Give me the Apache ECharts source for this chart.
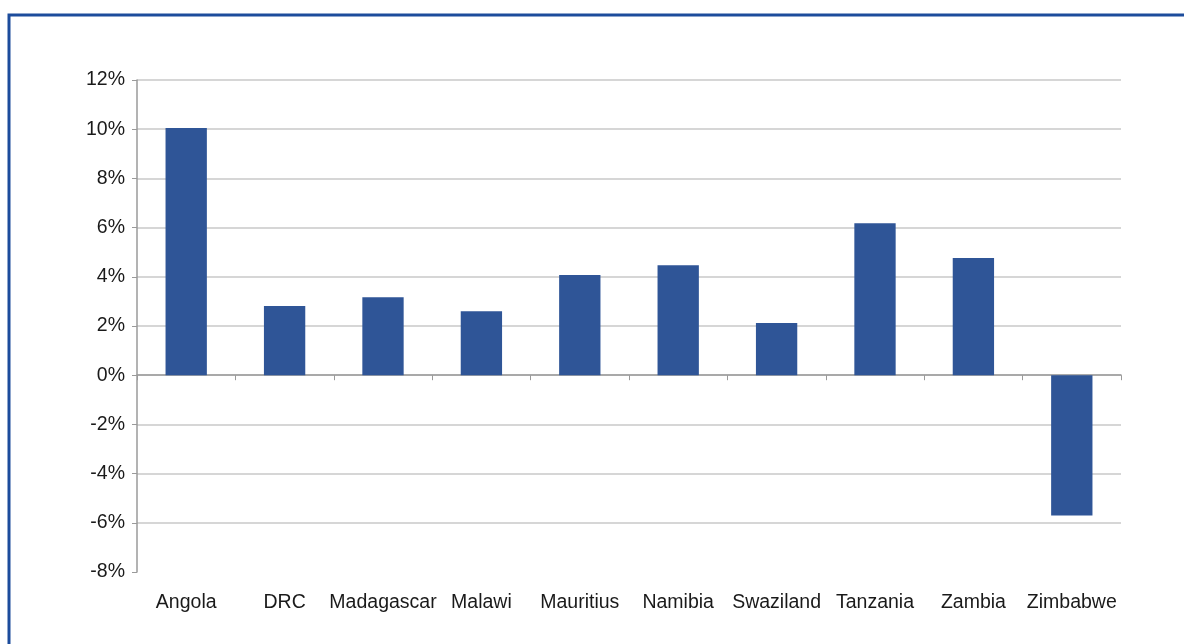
<!DOCTYPE html>
<html lang="en">
<head>
    <meta charset="UTF-8">
    <title>Growth</title>
    <style>
        html,body{margin:0;padding:0;background:#fff;}
        #chart{width:1184px;height:644px;}
    </style>
</head>
<body>
<div id="chart"></div>
<script src="https://cdn.jsdelivr.net/npm/echarts@6/dist/echarts.min.js"></script>
<script>
    let countries=['Angola','DRC','Madagascar','Malawi','Mauritius','Namibia','Swaziland','Tanzania','Zambia','Zimbabwe'];
    let growth=[10.05,2.81,3.17,2.6,4.07,4.47,2.12,6.18,4.76,-5.7];
    let yTicks=[-8,-6,-4,-2,0,2,4,6,8,10,12];

    let myChart=echarts.init(document.getElementById('chart'));
    let option={
        animation:false,
        textStyle:{fontFamily:'Liberation Sans, Arial, sans-serif'},
        graphic:[{
            type:'rect',
            shape:{x:9,y:15,width:1300,height:700},
            style:{fill:'none',stroke:'#1c4c9c',lineWidth:3}
        }],
        grid:{left:137,right:63,top:80,bottom:72},
        xAxis:[{
            type:'category',
            data:countries,
            position:'bottom',
            axisLine:{show:false,onZero:false},
            axisTick:{show:false},
            axisLabel:{color:'#1a1a1a',fontSize:19.5,margin:21,interval:0}
        },{
            type:'category',
            data:countries,
            position:'top',
            axisLine:{show:true,onZero:true,lineStyle:{color:'#9a9a9a',width:1.5}},
            axisTick:{show:true,inside:true,length:5,lineStyle:{color:'#9a9a9a'}},
            axisLabel:{show:false}
        }],
        yAxis:{
            type:'value',
            min:yTicks[0],
            max:yTicks[yTicks.length-1],
            interval:2,
            axisLine:{show:true,lineStyle:{color:'#9a9a9a',width:1.5}},
            axisTick:{show:true,length:5,lineStyle:{color:'#9a9a9a'}},
            axisLabel:{color:'#1a1a1a',fontSize:19.5,margin:12,padding:[5,0,0,0],formatter:'{value}%'},
            splitLine:{show:true,showMinLine:false,lineStyle:{color:'#c8c8c8',width:1.5}}
        },
        series:[{
            type:'bar',
            data:growth,
            xAxisIndex:0,
            barWidth:'42%',
            itemStyle:{color:'#2f5597'}
        }]
    };
    myChart.setOption(option);
</script>
</body>
</html>
